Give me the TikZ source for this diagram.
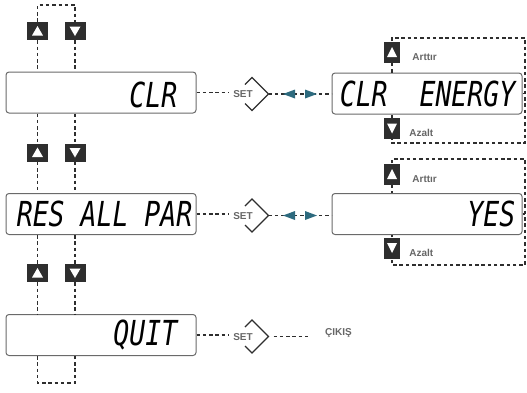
\documentclass[tikz,border=0pt]{standalone}
\usepackage{fontspec}
\setsansfont{Liberation Sans}
\newfontfamily\segfont{DejaVu Sans Mono}
\usepackage{graphicx}
\usepackage{tikz}
\usetikzlibrary{positioning,calc}

\definecolor{frame}{HTML}{6A6A6A}
\definecolor{keyfill}{HTML}{2E2E2E}
\definecolor{note}{HTML}{666666}
\definecolor{flow}{HTML}{2D6A7E}

\newcommand{\segtext}[1]{\scalebox{1}[1.3]{#1}}

\tikzset{
  lcd/.style={draw=frame, line width=1pt, rounded corners=3pt, minimum width=190pt, minimum height=41pt, inner sep=0pt},
  lcdtxt/.style={anchor=east, inner sep=0pt, font=\fontsize{26.5}{27}\selectfont\segfont\itshape},
  link/.style={draw=keyfill, line width=1.3pt, dash pattern=on 3.5pt off 2.8pt},
  keybox/.style={fill=keyfill, minimum width=21pt, minimum height=18pt, inner sep=0pt},
  sidekey/.style={fill=keyfill, minimum width=16pt, minimum height=21pt, inner sep=0pt},
  keynote/.style={text=note, inner sep=0pt, font=\fontsize{10}{11}\selectfont\sffamily\bfseries},
  setlbl/.style={text=note, inner sep=0pt, font=\fontsize{10}{11}\selectfont\sffamily\bfseries},
  setedge/.style={draw=keyfill, line width=1.3pt}
}

\begin{document}
\begin{tikzpicture}[x=1pt,y=-1pt]
\useasboundingbox (0,0) rectangle (527,392);

% displays, left column
\node[lcd] (clr) at (101,92.5) {};
\node[lcd] (res) at (101,214) {};
\node[lcd] (quit) at (101,335) {};
\node[lcdtxt] (clrtxt) at ($(clr.east)+(-19,2)$) {\segtext{CLR}};
\node[lcdtxt] (restxt) at ($(res.east)+(-4,0)$) {\segtext{RES ALL PAR}};
\node[lcdtxt] (quittxt) at ($(quit.east)+(-19,0)$) {\segtext{QUIT}};

% displays, right column
\node[lcd] (ener) at (427,93.5) {};
\node[lcd] (yes) at (427,214) {};
\node[lcdtxt] (enertxt) at ($(ener.east)+(-7,0)$) {\segtext{CLR\ \ ENERGY}};
\node[lcdtxt] (yestxt) at ($(yes.east)+(-7,0)$) {\segtext{YES}};

% up / down keys of the menu
\foreach \k/\y in {1/31,2/152.5,3/273} {
  \node[keybox] (up\k) at (37.5,\y) {};
  \node[keybox] (dn\k) at (75,\y) {};
  \fill[white] ($(up\k)+(-5.5,4.5)$) -- ($(up\k)+(5.5,4.5)$) -- ($(up\k)+(0,-5)$) -- cycle;
  \fill[white] ($(dn\k)+(-5.5,-4.5)$) -- ($(dn\k)+(5.5,-4.5)$) -- ($(dn\k)+(0,5)$) -- cycle;
}
\coordinate (loopT) at (56,5);
\coordinate (loopB) at (56,383);
\draw[link] (up1) |- (loopT) -| (dn1);
\draw[link] (up3 |- quit.south) |- (loopB) -| (dn3 |- quit.south);
\foreach \k/\b/\n in {1/clr/2,2/res/3} {
  \draw[link] (up\k) -- (up\k |- \b.north);
  \draw[link] (dn\k) -- (dn\k |- \b.north);
  \draw[link] (up\n |- \b.south) -- (up\n);
  \draw[link] (dn\n |- \b.south) -- (dn\n);
}
\draw[link] (up3) -- (up3 |- quit.north);
\draw[link] (dn3) -- (dn3 |- quit.north);

% SET keys
\foreach \b in {clr,res,quit} {
  \node[setlbl] (set\b) at ($(\b.center)+(142,2)$) {SET};
  \coordinate (dia\b) at ($(\b.center)+(151,1.5)$);
  \coordinate (tip\b) at ($(dia\b)+(16.5,0)$);
  \draw[setedge] ($(dia\b)+(-7,-9.5)$) -- ($(dia\b)+(0,-16.5)$) -- (tip\b)
    -- ($(dia\b)+(0,16.5)$) -- ($(dia\b)+(-7,9.5)$);
  \draw[link, shorten >=5pt] (\b.east) -- (\b.east -| set\b.west);
}

% edit pages
\foreach \b/\t/\r/\u/\d/\top/\bot in {clr/ener/1/52/128.5/38/143,res/yes/2/174/248/159/265} {
  \draw[link] (tip\b) -- (tip\b -| \t.west);
  \coordinate (mid\r) at ($(tip\b)!0.5!(tip\b -| \t.west)$);
  \fill[flow] ($(mid\r)+(-5,-4.5)$) -- ($(mid\r)+(-5,4.5)$) -- ($(mid\r)+(-17,0)$) -- cycle;
  \fill[flow] ($(mid\r)+(5,-4.5)$) -- ($(mid\r)+(5,4.5)$) -- ($(mid\r)+(17,0)$) -- cycle;
  \node[sidekey] (ku\r) at (392,\u) {};
  \node[sidekey] (kd\r) at (392,\d) {};
  \fill[white] ($(ku\r)+(-5,5)$) -- ($(ku\r)+(5,5)$) -- ($(ku\r)+(0,-5)$) -- cycle;
  \fill[white] ($(kd\r)+(-5,-5)$) -- ($(kd\r)+(5,-5)$) -- ($(kd\r)+(0,5)$) -- cycle;
  \node[keynote, anchor=west] (inc\r) at ($(ku\r.east)+(12,5)$) {Arttır};
  \node[keynote, anchor=west] (dec\r) at ($(kd\r.east)+(9,4.5)$) {Azalt};
  \coordinate (rt\r) at (525,\top);
  \coordinate (rb\r) at (525,\bot);
  \draw[link] (ku\r) |- (rt\r) -- (rb\r) -| (kd\r);
  \draw[link] (ku\r) -- (ku\r |- \t.north);
  \draw[link] (kd\r) -- (kd\r |- \t.south);
  \draw[link] (\t.east) -- (\t.east -| rt\r);
}

% exit
\node[keynote, anchor=west] (exit) at (325,333) {ÇIKIŞ};
\draw[link, shorten <=5pt, shorten >=17pt] (tipquit) -- (tipquit -| exit.west);
\end{tikzpicture}
\end{document}
